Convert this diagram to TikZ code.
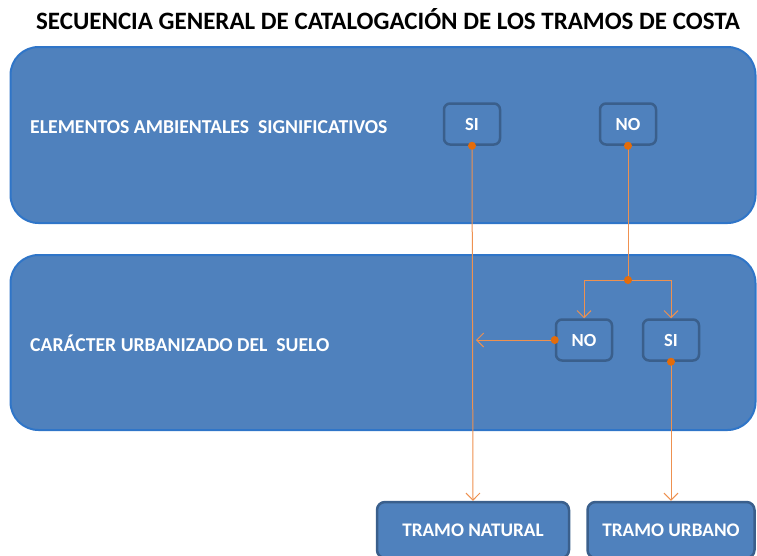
\documentclass[tikz,border=0pt]{standalone}
\usepackage{fontspec}
\setmainfont{Carlito}
\usetikzlibrary{arrows.meta, positioning}
\definecolor{panelblue}{HTML}{4F81BD}
\definecolor{paneledge}{HTML}{2F75C8}
\definecolor{boxedge}{HTML}{3A5F8C}
\definecolor{linkorange}{HTML}{EE9150}
\definecolor{dotorange}{HTML}{E46C0A}
\tikzset{
    panel/.style={
      draw=paneledge, line width=2pt, fill=panelblue,
      rounded corners=28pt, %large soft corners
      minimum width=745pt, minimum height=176pt, inner sep=0pt,
    },
    choice/.style={
      draw=boxedge, line width=2.5pt, fill=panelblue,
      rounded corners=6pt, minimum width=56pt, minimum height=41pt,
      text=white, font=\bfseries\fontsize{18.5}{20}\selectfont,
    },
    result/.style={
      choice, minimum width=192pt, minimum height=56pt, rounded corners=8pt,
      font=\bfseries\fontsize{19.2}{22}\selectfont,
    },
    paneltext/.style={anchor=west, text=white, inner sep=0pt,
      font=\bfseries\fontsize{19.7}{22}\selectfont},
    link/.style={draw=linkorange, line width=1pt},
    flow/.style={link, -{Straight Barb[length=7pt, width=14pt]}}, %open arrow head
    dot/.style={circle, fill=dotorange, inner sep=0pt, minimum size=8pt},
  }

\begin{document}
\begin{tikzpicture}[x=1pt, y=-1pt]
          \clip (0,0) rectangle (757,555);
          \node[font=\bfseries\fontsize{25}{28}\selectfont] (title) at (388,19)
            {SECUENCIA GENERAL DE CATALOGACIÓN DE LOS TRAMOS DE COSTA};

          % the two panels
          \node[panel] (elementos) at (383,135) {};
          \node[panel, minimum height=175pt] (caracter) at (383,342.5) {};
          \node[paneltext] (elemtext) at (30,127) {ELEMENTOS AMBIENTALES\ \ SIGNIFICATIVOS};
          \node[paneltext] (cartext) at (30,343) {CARÁCTER URBANIZADO DEL\ \ SUELO};

          % choices
          \node[choice] (siA) at (472,124) {SI};
          \node[choice] (noA) at (628,124) {NO};
          \node[choice] (noB) at (584,340) {NO};
          \node[choice] (siB) at (671,340) {SI};

          % results
          \node[result] (natural) at (473,530) {TRAMO NATURAL};
          \node[result, minimum width=167pt] (urbano) at (671,530) {TRAMO URBANO};

          \coordinate (split) at (noA.south |- 0,280);
          \coordinate (natstop) at ([xshift=4pt]siA.south |- noB.west);

          \draw[flow] (siA.south) -- (natural.north);
          \draw[link] (noA.south) -- (split);
          \draw[flow] (split) -| (noB.north);
          \draw[flow] (split) -| (siB.north);
          \draw[flow] (noB.west) -- (natstop);
          \draw[flow] (siB.south) -- (urbano.north);

          \foreach \p in {siA.south, noA.south, split, noB.west, siB.south}
            \node[dot] at (\p) {};
        \end{tikzpicture}
\end{document}
